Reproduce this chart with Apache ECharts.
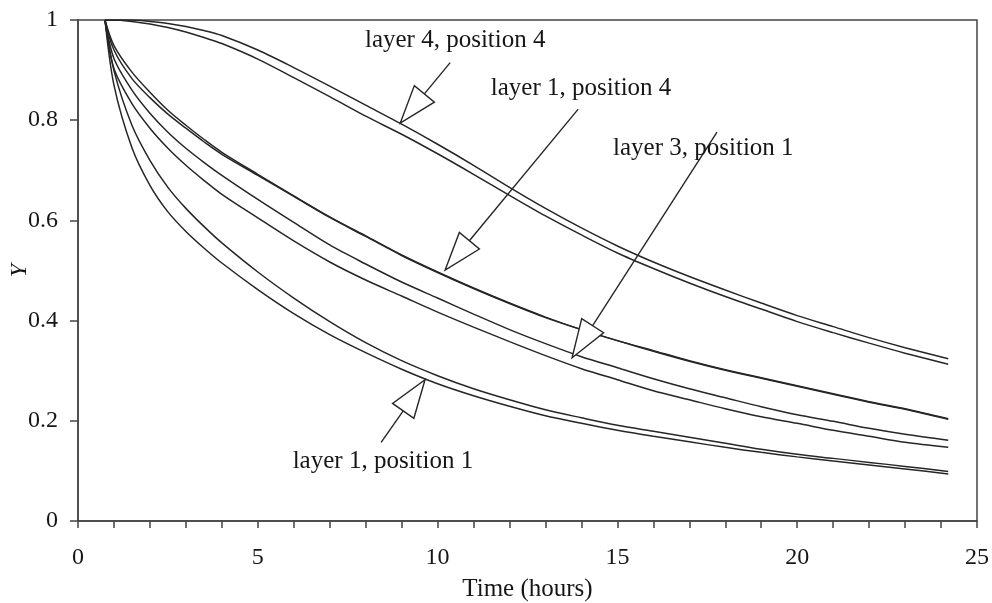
<!DOCTYPE html>
<html>
<head>
<meta charset="utf-8">
<script src="https://cdn.jsdelivr.net/npm/echarts@6/dist/echarts.min.js"></script>
<style>
  html, body { margin: 0; padding: 0; background: #fff; }
  #chart { width: 992px; height: 603px; }
</style>
</head>
<body>
<div id="chart"></div>
<script>
// Time axis (hours) shared by every drying curve
const timeHours = [0.75, 1, 1.5, 2, 2.5, 3, 3.5, 4, 5, 6, 7, 8, 9, 10, 11, 12, 13, 14, 15, 16, 17, 18, 19, 20, 21, 22, 23, 24.2];

// Y (moisture ratio) for each measured run
const layer4pos4a = [1.0, 1.0, 1.0, 0.997, 0.993, 0.987, 0.979, 0.969, 0.940, 0.905, 0.868, 0.830, 0.792, 0.752, 0.710, 0.666, 0.624, 0.585, 0.549, 0.517, 0.488, 0.461, 0.435, 0.410, 0.388, 0.366, 0.346, 0.324];
const layer4pos4b = [1.0, 1.0, 0.997, 0.992, 0.985, 0.976, 0.965, 0.953, 0.922, 0.885, 0.847, 0.808, 0.772, 0.733, 0.692, 0.650, 0.609, 0.571, 0.535, 0.504, 0.475, 0.448, 0.423, 0.398, 0.376, 0.355, 0.335, 0.313];
const layer1pos4a = [1.0, 0.949, 0.896, 0.856, 0.820, 0.790, 0.762, 0.736, 0.692, 0.649, 0.607, 0.569, 0.531, 0.497, 0.465, 0.435, 0.407, 0.382, 0.360, 0.340, 0.320, 0.302, 0.286, 0.270, 0.254, 0.238, 0.224, 0.204];
const layer1pos4b = [1.0, 0.940, 0.883, 0.845, 0.812, 0.784, 0.757, 0.732, 0.690, 0.648, 0.606, 0.568, 0.530, 0.496, 0.464, 0.434, 0.406, 0.382, 0.360, 0.339, 0.319, 0.301, 0.285, 0.269, 0.253, 0.237, 0.223, 0.203];
const layer3pos1a = [1.0, 0.923, 0.860, 0.814, 0.776, 0.744, 0.716, 0.690, 0.642, 0.596, 0.551, 0.513, 0.477, 0.445, 0.413, 0.382, 0.354, 0.328, 0.306, 0.284, 0.264, 0.246, 0.228, 0.212, 0.199, 0.185, 0.173, 0.161];
const layer3pos1b = [1.0, 0.903, 0.833, 0.784, 0.744, 0.710, 0.680, 0.652, 0.605, 0.559, 0.517, 0.481, 0.449, 0.417, 0.387, 0.358, 0.330, 0.304, 0.282, 0.260, 0.242, 0.224, 0.208, 0.195, 0.181, 0.169, 0.157, 0.147];
const layer1pos1a = [1.0, 0.899, 0.790, 0.720, 0.666, 0.624, 0.588, 0.555, 0.497, 0.445, 0.398, 0.356, 0.320, 0.290, 0.264, 0.242, 0.222, 0.206, 0.191, 0.179, 0.167, 0.155, 0.143, 0.133, 0.125, 0.117, 0.109, 0.099];
const layer1pos1b = [1.0, 0.870, 0.745, 0.670, 0.617, 0.578, 0.545, 0.515, 0.462, 0.414, 0.372, 0.336, 0.303, 0.274, 0.250, 0.229, 0.210, 0.195, 0.181, 0.169, 0.158, 0.147, 0.137, 0.128, 0.120, 0.112, 0.104, 0.094];

const runs = [layer4pos4a, layer4pos4b, layer1pos4a, layer1pos4b, layer3pos1a, layer3pos1b, layer1pos1a, layer1pos1b];

// Axis ticks
const xTicks = [0, 5, 10, 15, 20, 25];
const yTicks = [0, 0.2, 0.4, 0.6, 0.8, 1];

// Callout annotations: text, label centre, arrow tail and arrow tip (data units)
const noteText = ['layer 4, position 4', 'layer 1, position 4', 'layer 3, position 1', 'layer 1, position 1'];
const noteLabel = [[10.49, 0.959], [13.99, 0.864], [17.39, 0.744], [8.48, 0.119]];
const noteTail = [[10.35, 0.915], [13.91, 0.822], [17.77, 0.776], [8.43, 0.157]];
const noteTip = [[8.96, 0.794], [10.21, 0.501], [13.74, 0.326], [9.65, 0.282]];

const SERIF = '"Liberation Serif", "DejaVu Serif", serif';
const INK = '#262626';
const TEXT = '#161616';

const curveSeries = runs.map(function (vals) {
  return {
    type: 'line',
    data: timeHours.map(function (t, i) { return [t, vals[i]]; }),
    showSymbol: false,
    smooth: 0.3,
    lineStyle: { color: INK, width: 1.5 },
    silent: true,
    z: 3
  };
});

const noteData = noteText.map(function (_, i) {
  return [noteTip[i][0], noteTip[i][1], noteTail[i][0], noteTail[i][1], noteLabel[i][0], noteLabel[i][1], i];
});

const noteSeries = {
  type: 'custom',
  coordinateSystem: 'cartesian2d',
  clip: false,
  silent: true,
  z: 5,
  encode: { x: [0, 2, 4], y: [1, 3, 5] },
  data: noteData,
  renderItem: function (params, api) {
    const tip = api.coord([api.value(0), api.value(1)]);
    const tail = api.coord([api.value(2), api.value(3)]);
    const lab = api.coord([api.value(4), api.value(5)]);
    const idx = api.value(6);
    const dx = tip[0] - tail[0], dy = tip[1] - tail[1];
    const len = Math.sqrt(dx * dx + dy * dy);
    const ux = dx / len, uy = dy / len;
    const headLen = 38, halfW = 13;
    const bx = tip[0] - ux * headLen, by = tip[1] - uy * headLen;
    const p1 = [bx - uy * halfW, by + ux * halfW];
    const p2 = [bx + uy * halfW, by - ux * halfW];
    return {
      type: 'group',
      children: [
        { type: 'line', shape: { x1: tail[0], y1: tail[1], x2: bx, y2: by },
          style: { stroke: INK, lineWidth: 1.4 } },
        { type: 'polygon', shape: { points: [tip, p1, p2] },
          style: { fill: '#fff', stroke: INK, lineWidth: 1.4 } },
        { type: 'text', x: lab[0], y: lab[1],
          style: { text: noteText[idx], fill: TEXT, font: '25px ' + SERIF,
                   align: 'center', verticalAlign: 'middle' } }
      ]
    };
  }
};

const chart = echarts.init(document.getElementById('chart'), null, { renderer: 'canvas' });
chart.setOption({
  backgroundColor: '#ffffff',
  animation: false,
  grid: {
    left: 78, right: 15, top: 20, bottom: 82,
    containLabel: false,
    outerBoundsMode: 'none',
    show: true, borderColor: '#444', borderWidth: 1.5, backgroundColor: 'transparent'
  },
  xAxis: {
    type: 'value',
    min: 0, max: 25, interval: 1,
    name: 'Time (hours)',
    nameLocation: 'middle',
    nameGap: 56,
    nameMoveOverlap: false,
    nameTextStyle: { fontFamily: SERIF, fontSize: 25, color: TEXT },
    axisLine: { show: true, onZero: false, lineStyle: { color: '#444', width: 1.5 } },
    axisTick: { show: true, inside: false, length: 7, lineStyle: { color: '#444', width: 1.5 } },
    axisLabel: {
      margin: 25,
      fontFamily: SERIF, fontSize: 24, color: TEXT,
      formatter: function (v) { return xTicks.indexOf(v) >= 0 ? String(v) : ''; }
    },
    splitLine: { show: false }
  },
  yAxis: {
    type: 'value',
    min: 0, max: 1, interval: 0.2,
    name: 'Y',
    nameLocation: 'middle',
    nameRotate: 90,
    nameGap: 46,
    nameMoveOverlap: false,
    nameTextStyle: { fontFamily: SERIF, fontSize: 24, fontStyle: 'italic', color: TEXT },
    axisLine: { show: true, onZero: false, lineStyle: { color: '#444', width: 1.5 } },
    axisTick: { show: true, inside: false, length: 8, lineStyle: { color: '#444', width: 1.5 } },
    axisLabel: {
      margin: 20,
      fontFamily: SERIF, fontSize: 24, color: TEXT,
      formatter: function (v) {
        const hit = yTicks.find(function (t) { return Math.abs(t - v) < 1e-9; });
        return hit === undefined ? '' : String(hit);
      }
    },
    splitLine: { show: false }
  },
  series: curveSeries.concat([noteSeries])
});
</script>
</body>
</html>
